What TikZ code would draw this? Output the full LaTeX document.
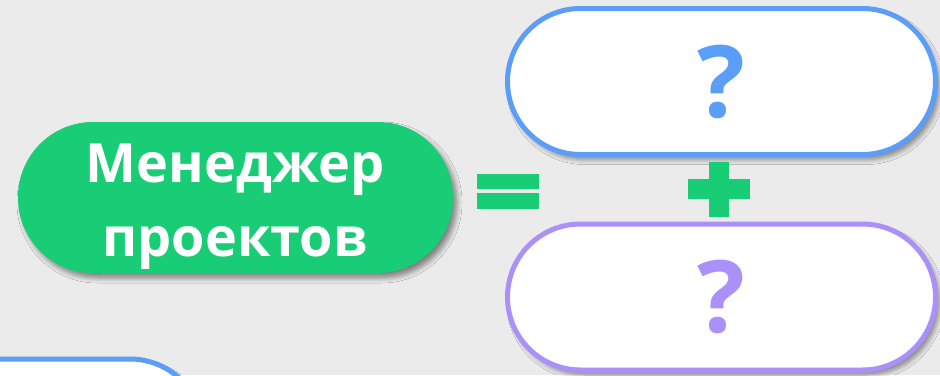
\documentclass[tikz,border=0pt]{standalone}
\usepackage{fontspec}
\setmainfont{Open Sans}
\usetikzlibrary{shadows.blur}
\definecolor{bg}{HTML}{EBEBEB}
\definecolor{mgreen}{HTML}{19CD77}
\definecolor{mblue}{HTML}{5B9EF9}
\definecolor{mpurple}{HTML}{AC90FA}
\tikzset{
  shade/.style={blur shadow={shadow xshift=4pt, shadow yshift=-5pt, shadow blur steps=6, shadow blur radius=5pt, shadow opacity=45}},
  pill/.style={shade, rectangle, rounded corners=73pt, inner sep=0pt},
  qbox/.style={pill, fill=white, line width=5pt, minimum width=428pt, minimum height=146pt,
    font=\fontsize{100}{110}\selectfont\bfseries},
  signbar/.style={fill=mgreen}
}
\begin{document}
\begin{tikzpicture}[x=1pt,y=-1pt]
\useasboundingbox[fill=bg] (0,0) rectangle (940,375);
% green main box
\node[pill, fill=mgreen, minimum width=435pt, minimum height=151pt, rounded corners=75pt] (pm) at (235.5,197.5) {};
\node[text=white, align=center, inner sep=0pt, font=\fontsize{54}{74}\selectfont\bfseries] (pmtext) at (235,207)
  {Менеджер\\проектов};
% right boxes
\node[qbox, draw=mblue, text=mblue] (q1) at (721.5,81.5) {?};
\node[qbox, draw=mpurple, text=mpurple] (q2) at (721.5,297) {?};
% partial box bottom-left
\node[pill, fill=white, draw=mblue, line width=5pt, minimum width=505pt, minimum height=146pt,
  anchor=north east] (partial) at (205.5,356.5) {};
% equals sign
\fill[signbar] (477,174) rectangle (539,189);
\fill[signbar] (477,193) rectangle (539,209);
% plus sign
\fill[signbar] (688,179) rectangle (750,199);
\fill[signbar] (709,162) rectangle (729,217);
\end{tikzpicture}
\end{document}
